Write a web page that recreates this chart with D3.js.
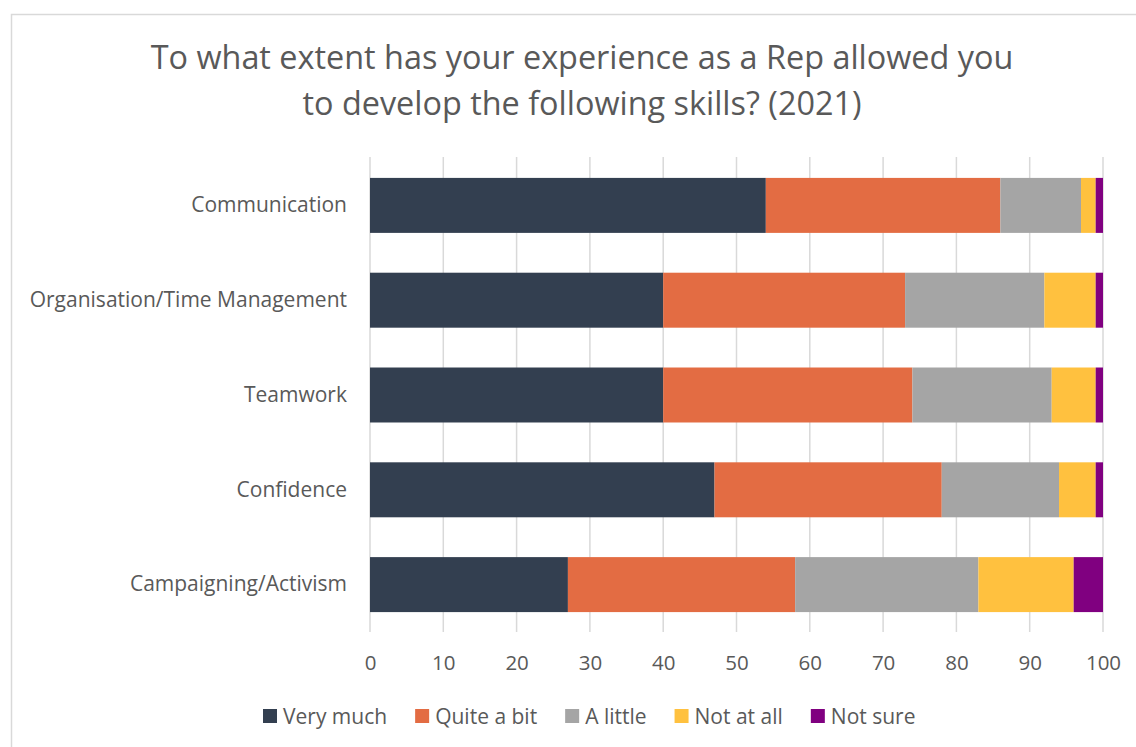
<!DOCTYPE html>
<html lang="en">
<head>
<meta charset="utf-8">
<title>Rep skills 2021</title>
<script src="https://d3js.org/d3.v7.min.js"></script>
<style>
  body { margin: 0; background: #fff; }
  text { font-family: "Open Sans", sans-serif; fill: #595959; }
</style>
</head>
<body>
<script>
// data (percent)
var skills = ["Communication", "Organisation/Time Management", "Teamwork", "Confidence", "Campaigning/Activism"];
var responses = ["Very much", "Quite a bit", "A little", "Not at all", "Not sure"];
var veryMuch  = [54, 40, 40, 47, 27];
var quiteABit = [32, 33, 34, 31, 31];
var aLittle   = [11, 19, 19, 16, 25];
var notAtAll  = [2, 7, 6, 5, 13];
var notSure   = [1, 1, 1, 1, 4];
var xTicks = [0, 10, 20, 30, 40, 50, 60, 70, 80, 90, 100];
var colors = ["#333f50", "#e36c43", "#a5a5a5", "#ffc13f", "#800080"];

var w = 1136, h = 747;
var plotLeft = 370, plotRight = 1103, plotTop = 158, plotBottom = 632;

var rows = skills.map(function(s, i) {
  return { skill: s, "Very much": veryMuch[i], "Quite a bit": quiteABit[i],
           "A little": aLittle[i], "Not at all": notAtAll[i], "Not sure": notSure[i] };
});

var svg = d3.select("body").append("svg")
  .attr("width", w).attr("height", h);

// chart frame
svg.append("rect")
  .attr("x", 11.5).attr("y", 14.5)
  .attr("width", w + 20).attr("height", h + 20)
  .attr("fill", "none").attr("stroke", "#d9d9d9").attr("stroke-width", 1.5);

// title
var title = svg.append("text")
  .attr("text-anchor", "middle")
  .attr("font-size", "32.4px");
title.append("tspan").attr("x", 582).attr("y", 69)
  .text("To what extent has your experience as a Rep allowed you");
title.append("tspan").attr("x", 582).attr("y", 115)
  .text("to develop the following skills? (2021)");

var xScale = d3.scaleLinear().domain([0, 100]).range([plotLeft, plotRight]);
var yScale = d3.scaleBand().domain(skills).range([plotTop, plotBottom]).paddingInner(0.42).paddingOuter(0.21);

// gridlines
svg.append("g")
  .selectAll("line")
  .data(xTicks)
  .enter()
  .append("line")
  .attr("x1", function(d) { return xScale(d); })
  .attr("x2", function(d) { return xScale(d); })
  .attr("y1", plotTop - 1).attr("y2", plotBottom)
  .attr("stroke", "#d9d9d9").attr("stroke-width", 1.5);

// stacked bars
var series = d3.stack().keys(responses)(rows);
svg.append("g")
  .selectAll("g")
  .data(series)
  .enter()
  .append("g")
  .attr("fill", function(d, i) { return colors[i]; })
  .selectAll("rect")
  .data(function(d) { return d; })
  .enter()
  .append("rect")
  .attr("x", function(d) { return xScale(d[0]); })
  .attr("width", function(d) { return xScale(d[1]) - xScale(d[0]); })
  .attr("y", function(d) { return yScale(d.data.skill); })
  .attr("height", yScale.bandwidth());

// x axis
var xAxis = d3.axisBottom(xScale).tickValues(xTicks).tickSize(0).tickPadding(0);
var gx = svg.append("g")
  .attr("transform", "translate(0," + plotBottom + ")")
  .call(xAxis);
gx.select(".domain").remove();
gx.selectAll("text")
  .attr("y", 38)
  .attr("dy", null)
  .attr("font-size", "20.5px")
  .attr("font-family", null)
  .attr("fill", null);

// y axis
var yAxis = d3.axisLeft(yScale).tickSize(0).tickPadding(23);
var gy = svg.append("g")
  .attr("transform", "translate(" + plotLeft + ",0)")
  .call(yAxis);
gy.select(".domain").remove();
gy.selectAll("text")
  .attr("font-size", "21px")
  .attr("font-family", null)
  .attr("fill", null);

// legend
var legend = svg.append("g").attr("transform", "translate(0,716)");
var lx = 263;
responses.forEach(function(r, i) {
  var item = legend.append("g").attr("transform", "translate(" + lx + ",0)");
  item.append("rect")
    .attr("x", 0).attr("y", -7)
    .attr("width", 14).attr("height", 14)
    .attr("fill", colors[i]);
  var t = item.append("text")
    .attr("x", 20).attr("y", 7.5)
    .attr("font-size", "21px")
    .text(r);
  lx += 20 + t.node().getComputedTextLength() + 28;
});
</script>
</body>
</html>
